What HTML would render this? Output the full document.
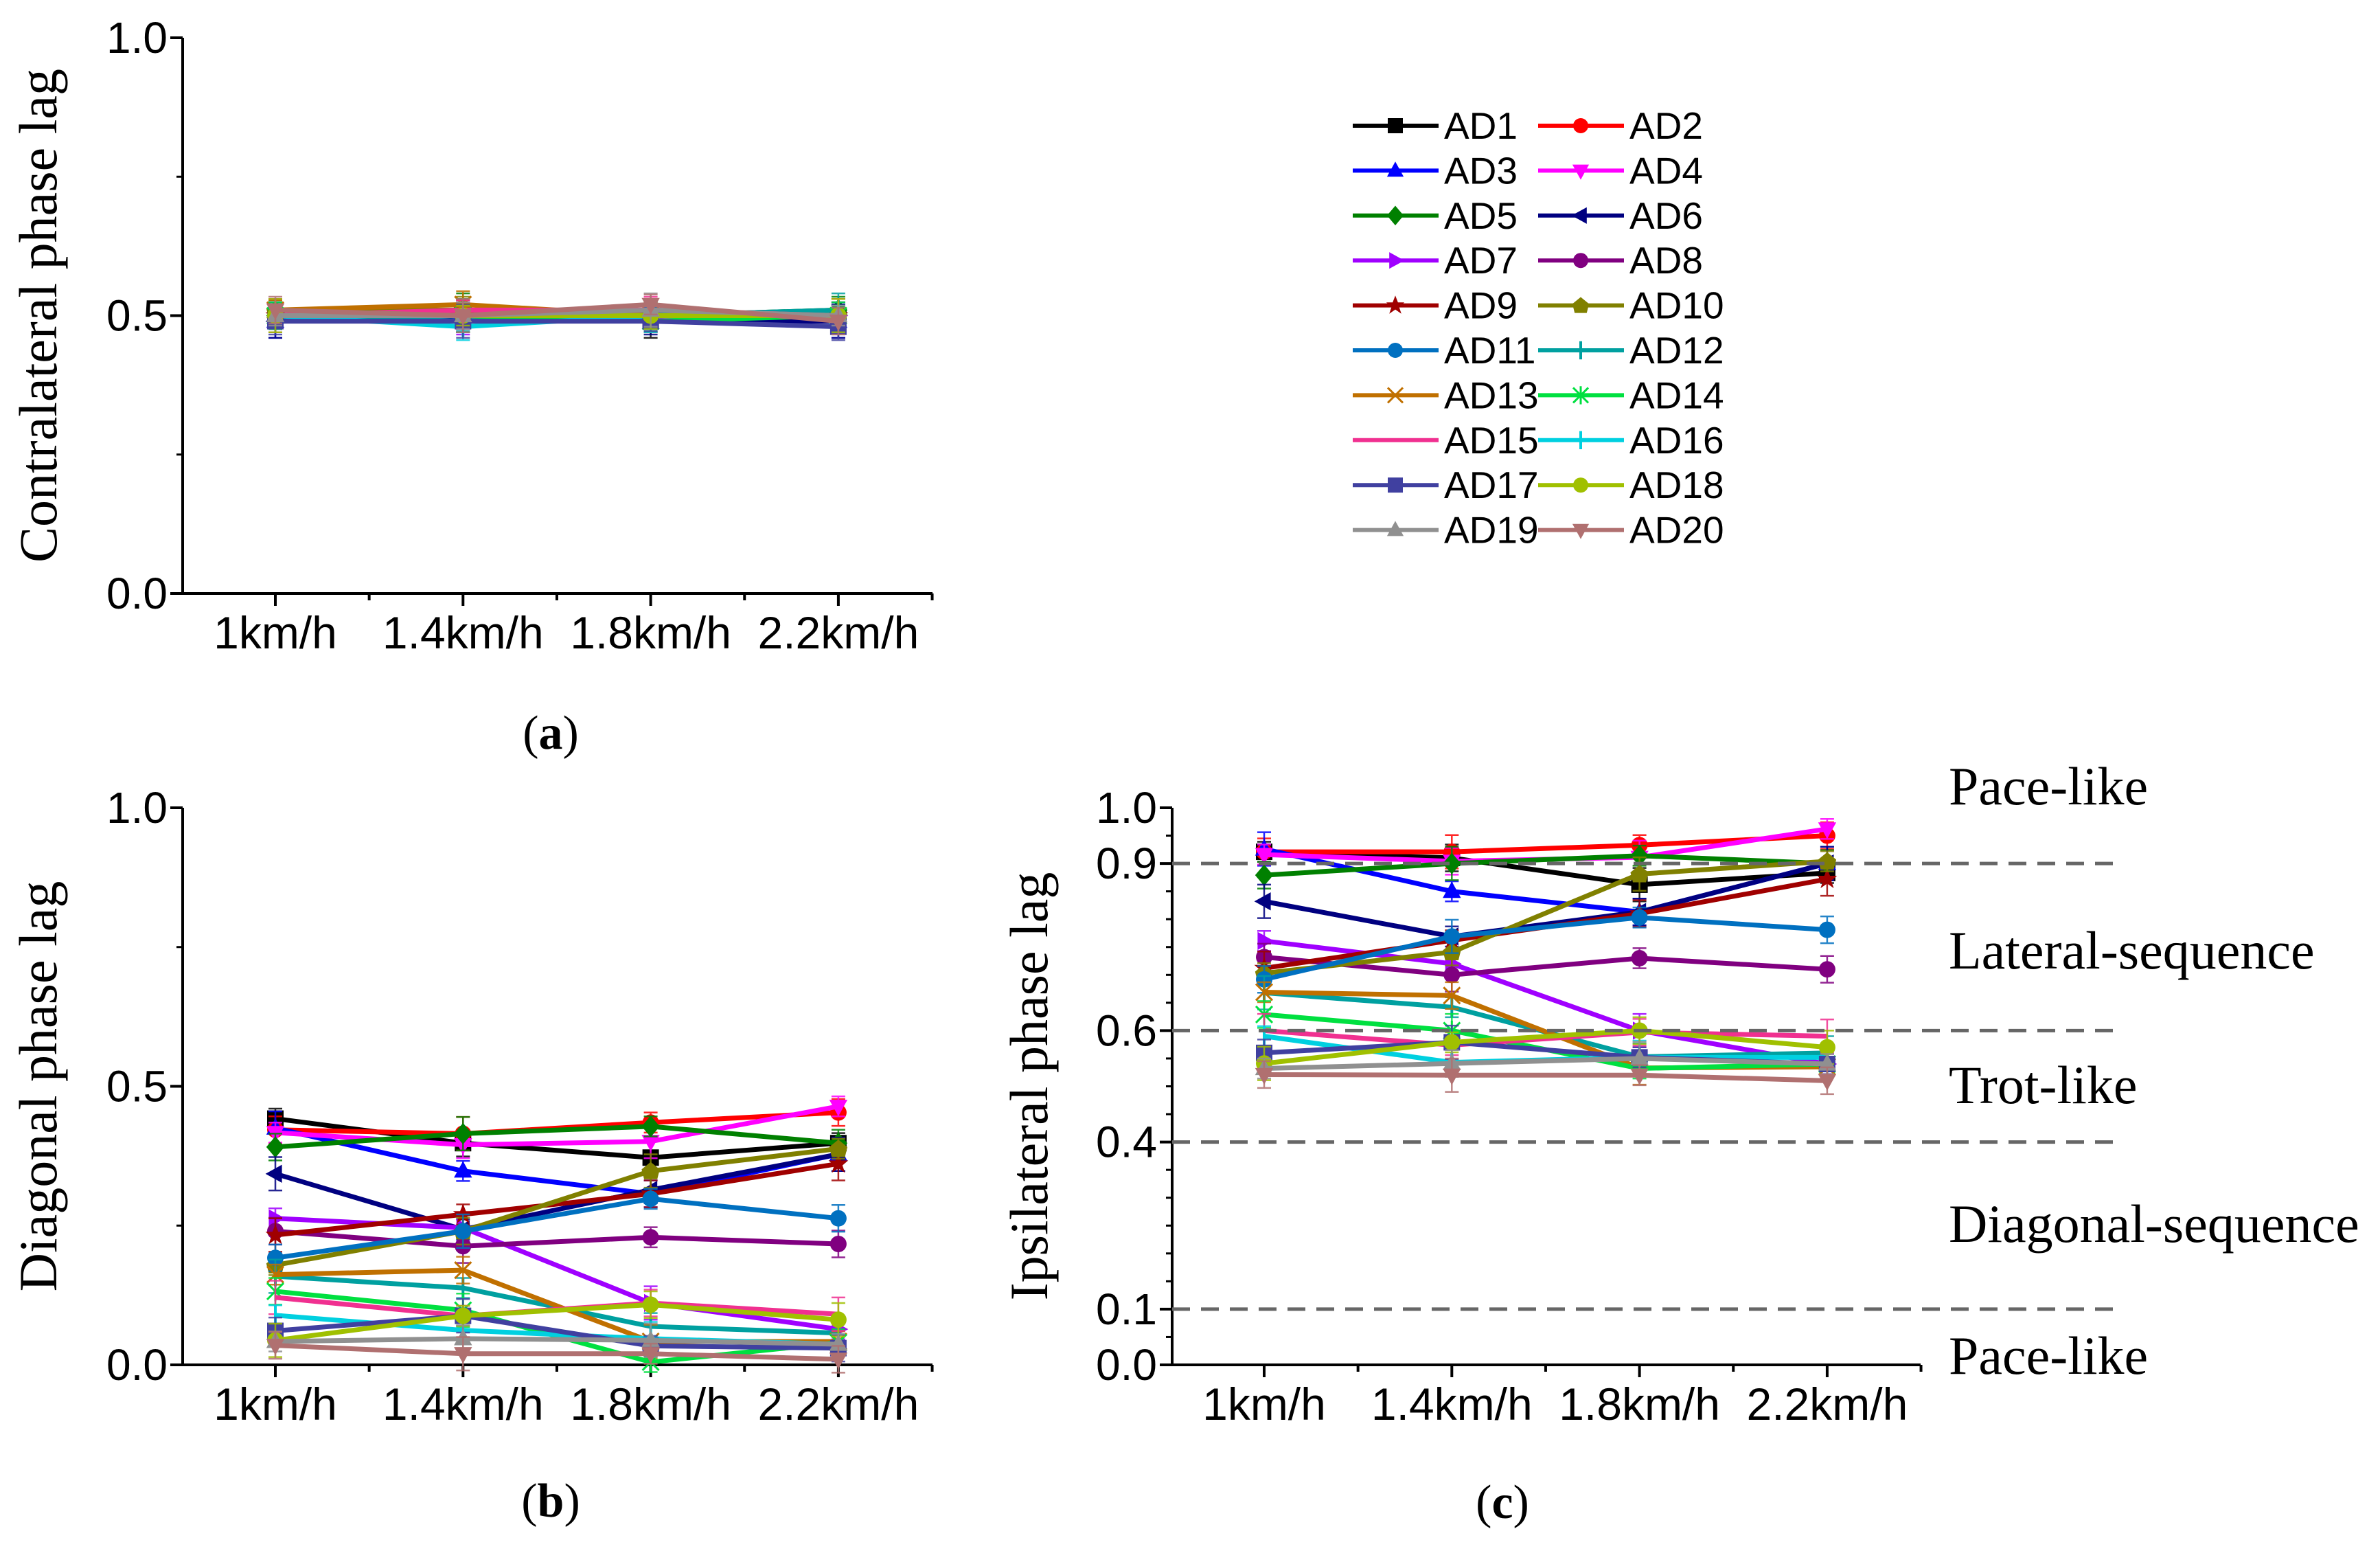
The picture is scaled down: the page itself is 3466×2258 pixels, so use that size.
<!DOCTYPE html>
<html><head><meta charset="utf-8">
<style>
html,body{margin:0;padding:0;background:#fff;}
svg{display:block;}
</style></head>
<body>
<svg id="fig" width="3466" height="2258" viewBox="0 0 3466 2258" xmlns="http://www.w3.org/2000/svg"></svg>
<script>
const categories = ["1km/h","1.4km/h","1.8km/h","2.2km/h"];
const seriesNames = ["AD1","AD2","AD3","AD4","AD5","AD6","AD7","AD8","AD9","AD10","AD11","AD12","AD13","AD14","AD15","AD16","AD17","AD18","AD19","AD20"];
const contralateral = [
 [0.50,0.50,0.49,0.50],[0.50,0.50,0.50,0.50],[0.49,0.50,0.50,0.49],[0.51,0.50,0.50,0.49],
 [0.50,0.51,0.50,0.51],[0.49,0.50,0.49,0.49],[0.50,0.49,0.50,0.50],[0.50,0.50,0.51,0.50],
 [0.50,0.51,0.50,0.50],[0.51,0.51,0.50,0.50],[0.50,0.50,0.51,0.50],[0.50,0.49,0.50,0.51],
 [0.51,0.52,0.50,0.50],[0.50,0.50,0.49,0.50],[0.50,0.51,0.51,0.50],[0.50,0.48,0.50,0.50],
 [0.49,0.49,0.49,0.48],[0.50,0.50,0.50,0.50],[0.50,0.50,0.51,0.50],[0.51,0.50,0.52,0.49]];
const diagonal = [
 [0.442,0.398,0.372,0.398],[0.422,0.415,0.435,0.453],[0.425,0.348,0.307,0.378],[0.417,0.395,0.401,0.464],
 [0.391,0.415,0.428,0.398],[0.343,0.243,0.314,0.378],[0.263,0.246,0.111,0.064],[0.240,0.213,0.229,0.217],
 [0.233,0.270,0.307,0.361],[0.179,0.240,0.348,0.388],[0.192,0.240,0.298,0.263],[0.159,0.138,0.069,0.057],
 [0.162,0.170,0.042,0.042],[0.132,0.098,0.005,0.040],[0.121,0.088,0.111,0.091],[0.089,0.062,0.047,0.037],
 [0.061,0.088,0.034,0.030],[0.044,0.088,0.108,0.081],[0.042,0.047,0.044,0.037],[0.035,0.020,0.020,0.010]];
const ipsilateral = [
 [0.921,0.910,0.862,0.883],[0.921,0.921,0.933,0.950],[0.926,0.850,0.813,0.900],[0.916,0.904,0.911,0.962],
 [0.879,0.900,0.914,0.900],[0.832,0.769,0.813,0.900],[0.761,0.720,0.600,0.540],[0.732,0.700,0.730,0.710],
 [0.712,0.762,0.810,0.872],[0.703,0.741,0.881,0.904],[0.692,0.769,0.803,0.781],[0.668,0.642,0.553,0.560],
 [0.669,0.663,0.533,0.535],[0.629,0.600,0.532,0.540],[0.600,0.574,0.597,0.590],[0.590,0.543,0.552,0.552],
 [0.560,0.579,0.552,0.540],[0.541,0.579,0.600,0.570],[0.532,0.541,0.550,0.540],[0.521,0.520,0.520,0.510]];
const errSize = [0.03,0.03,0.03,0.03];
const yTicksAB = [0.0,0.5,1.0];
const yTicksC = [0.0,0.1,0.4,0.6,0.9,1.0];
const dashedLevels = [0.9,0.6,0.4,0.1];

const colors = ["#000000","#ff0000","#0000ff","#ff00ff","#008000","#000080","#a000ff","#800080","#a00000","#808000","#0070c0","#00a0a0","#c07000","#00e040","#f03090","#00d0e0","#4040a0","#a0c000","#909090","#b07070"];
const markers = ["square","circle","up","down","diamond","left","right","circle","star","pent","circle","plus","x","ast","none","plus","square","circle","up","down"];

const NS="http://www.w3.org/2000/svg";
const svg=document.getElementById('fig');
function el(tag,attrs,parent){const e=document.createElementNS(NS,tag);for(const k in attrs)e.setAttribute(k,attrs[k]);(parent||svg).appendChild(e);return e;}

function marker(g,type,x,y,c,r){
  let m=null;
  if(type==="square") m=el('rect',{x:x-r,y:y-r,width:2*r,height:2*r,fill:c},g);
  else if(type==="circle") m=el('circle',{cx:x,cy:y,r:r,fill:c},g);
  else if(type==="up") m=el('polygon',{points:`${x},${y-r*1.2} ${x-r*1.1},${y+r*0.8} ${x+r*1.1},${y+r*0.8}`,fill:c},g);
  else if(type==="down") m=el('polygon',{points:`${x},${y+r*1.2} ${x-r*1.1},${y-r*0.8} ${x+r*1.1},${y-r*0.8}`,fill:c},g);
  else if(type==="left") m=el('polygon',{points:`${x-r*1.2},${y} ${x+r*0.8},${y-r*1.1} ${x+r*0.8},${y+r*1.1}`,fill:c},g);
  else if(type==="right") m=el('polygon',{points:`${x+r*1.2},${y} ${x-r*0.8},${y-r*1.1} ${x-r*0.8},${y+r*1.1}`,fill:c},g);
  else if(type==="diamond") m=el('polygon',{points:`${x},${y-r*1.3} ${x+r*1.1},${y} ${x},${y+r*1.3} ${x-r*1.1},${y}`,fill:c},g);
  else if(type==="pent") m=el('polygon',{points:`${x},${y-r*1.1} ${x+r*1.1},${y-r*0.2} ${x+r*0.8},${y+r} ${x-r*0.8},${y+r} ${x-r*1.1},${y-r*0.2}`,fill:c},g);
  else if(type==="star") m=el('polygon',{points:`${x},${y-r*1.3} ${x+r*0.35},${y-r*0.4} ${x+r*1.2},${y-r*0.4} ${x+r*0.5},${y+r*0.2} ${x+r*0.8},${y+r*1.1} ${x},${y+r*0.55} ${x-r*0.8},${y+r*1.1} ${x-r*0.5},${y+r*0.2} ${x-r*1.2},${y-r*0.4} ${x-r*0.35},${y-r*0.4}`,fill:c},g);
  else if(type==="plus") m=el('path',{d:`M${x},${y-r*1.2}V${y+r*1.2}`,stroke:c,'stroke-width':4,fill:'none'},g);
  else if(type==="x") m=el('path',{d:`M${x-r},${y-r}L${x+r},${y+r}M${x-r},${y+r}L${x+r},${y-r}`,stroke:c,'stroke-width':3,fill:'none'},g);
  else if(type==="ast") m=el('path',{d:`M${x-r},${y-r}L${x+r},${y+r}M${x-r},${y+r}L${x+r},${y-r}M${x},${y-r*1.2}V${y+r*1.2}`,stroke:c,'stroke-width':3,fill:'none'},g);
  if(m){}
}

function panel(id,ax,data,yTicks,minorStep,title,titleX){
  const g=el('g',{});
  
  
  const x0=ax.x0,x1=ax.x1,yT=ax.yTop,yB=ax.yBot;
  const yS=v=>yB-(v)*(yB-yT);
  const xS=i=>ax.cx0+i*ax.step;
  const axis=el('path',{d:`M${x0},${yT}V${yB}H${x1}`,stroke:'#000','stroke-width':4,fill:'none'},g);
  
  for(let v=0;v<=1.0001;v+=minorStep){
    el('line',{x1:x0-9,x2:x0,y1:yS(v),y2:yS(v),stroke:'#000','stroke-width':3},g);
  }
  yTicks.forEach(v=>{
    el('line',{x1:x0-18,x2:x0,y1:yS(v),y2:yS(v),stroke:'#000','stroke-width':4},g);
    const t=el('text',{x:x0-22,y:yS(v)+22,'text-anchor':'end','font-size':64,'font-family':'Liberation Sans, sans-serif'},g);
    t.textContent=v.toFixed(1);
    
  });
  for(let i=-0.5;i<=3.5;i+=0.5){
    const xx=xS(i); if(xx<x0+2||xx>x1+2)continue;
    const major=Number.isInteger(i);
    el('line',{x1:xx,x2:xx,y1:yB,y2:yB+(major?18:10),stroke:'#000','stroke-width':4},g);
  }
  categories.forEach((c,i)=>{
    const t=el('text',{x:xS(i),y:yB+80,'text-anchor':'middle','font-size':66,'font-family':'Liberation Sans, sans-serif'},g);
    t.textContent=c;
    
  });
  const ty=(yT+yB)/2;
  const tt=el('text',{x:titleX,y:ty,'text-anchor':'middle','font-size':78,'font-family':'Liberation Serif, serif',transform:`rotate(-90 ${titleX} ${ty})`},g);
  tt.textContent=title;
  
  data.forEach((s,k)=>{
    const sg=el('g',{},g);
    
    
    s.forEach((v,i)=>{
      const e=errSize[i]*(0.6+0.4*((k+i)%3)/2);
      const eb=el('path',{d:`M${xS(i)},${yS(v+e)}V${yS(v-e)}M${xS(i)-10},${yS(v+e)}h20M${xS(i)-10},${yS(v-e)}h20`,stroke:colors[k],'stroke-width':2.5,fill:'none',opacity:0.85},sg);
      
    });
    const pts=s.map((v,i)=>`${xS(i)},${yS(v)}`).join(' ');
    const pl=el('polyline',{points:pts,stroke:colors[k],'stroke-width':7,fill:'none'},sg);
    
    s.forEach((v,i)=>marker(sg,markers[k],xS(i),yS(v),colors[k],12));
  });
  return {g,yS};
}

const pa=panel('panel-a-contralateral',{x0:266,x1:1358,yTop:55,yBot:864,cx0:401,step:273.3},contralateral,yTicksAB,0.25,'Contralateral phase lag',82);
const pb=panel('panel-b-diagonal',{x0:266,x1:1358,yTop:1176,yBot:1987,cx0:401,step:273.3},diagonal,yTicksAB,0.25,'Diagonal phase lag',82);
const pc=panel('panel-c-ipsilateral',{x0:1707,x1:2797,yTop:1176,yBot:1987,cx0:1841,step:273.3},ipsilateral,yTicksC,0.05,'Ipsilateral phase lag',1525);

dashedLevels.forEach(v=>{
  const d=el('line',{x1:1707,x2:3077,y1:pc.yS(v),y2:pc.yS(v),stroke:'#666','stroke-width':5,'stroke-dasharray':'26 16'});
  
});

const regions=[["Pace-like",1145],["Lateral-sequence",1384],["Trot-like",1580],["Diagonal-sequence",1782],["Pace-like",1974]];
regions.forEach(r=>{
  const t=el('text',{x:2838,y:r[1]+26,'font-size':78,'font-family':'Liberation Serif, serif'});
  t.textContent=r[0];
  
});

const caps=[["a",802,1090],["b",802,2208],["c",2188,2210]];
caps.forEach(c=>{
  const t=el('text',{x:c[1],y:c[2],'text-anchor':'middle','font-size':70,'font-family':'Liberation Serif, serif'});
  t.innerHTML='(<tspan font-weight="bold">'+c[0]+'</tspan>)';
  
});

const lg=el('g',{});


seriesNames.forEach((n,k)=>{
  const col=k%2,row=Math.floor(k/2);
  const lx=col?2240:1970, y=183+row*65.4;
  const eg=el('g',{},lg);
  
  
  el('line',{x1:lx,x2:lx+125,y1:y,y2:y,stroke:colors[k],'stroke-width':6},eg);
  marker(eg,markers[k],lx+62,y,colors[k],11);
  const t=el('text',{x:lx+133,y:y+19,'font-size':55,'font-family':'Liberation Sans, sans-serif'},eg);
  t.textContent=n;
});
</script>
</body></html>
